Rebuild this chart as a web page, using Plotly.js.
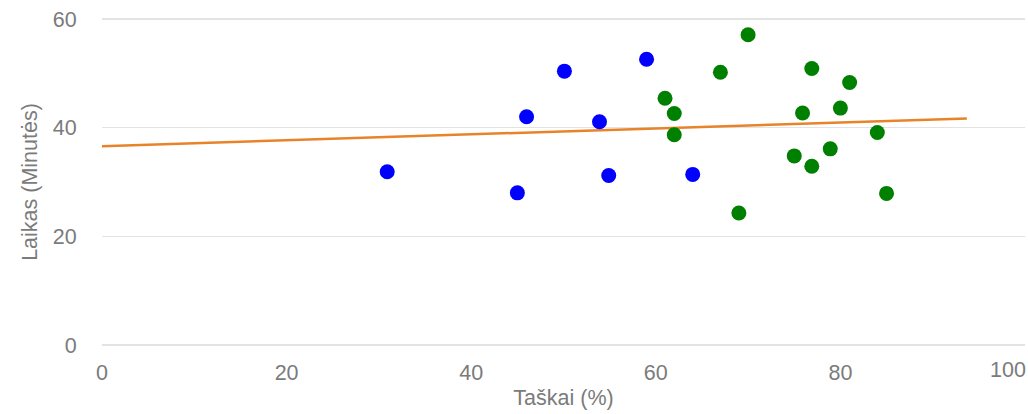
<!DOCTYPE html>
<html>
<head>
<meta charset="utf-8">
<script src="https://cdn.plot.ly/plotly-3.0.1.min.js"></script>
<style>html,body{margin:0;padding:0;background:#fff;}#chart{width:1028px;height:414px;}</style>
</head>
<body>
<div id="chart"></div>
<script>
const blueX = [30.9, 45.0, 46.0, 50.1, 53.9, 54.9, 59.0, 64.0];
const blueY = [31.9, 28.0, 42.0, 50.4, 41.1, 31.2, 52.6, 31.4];
const greenX = [61.0, 62.0, 62.0, 67.0, 69.0, 70.0, 75.0, 75.9, 76.9, 76.9, 78.9, 80.0, 81.0, 84.0, 85.0];
const greenY = [45.4, 42.6, 38.7, 50.2, 24.3, 57.1, 34.8, 42.7, 50.9, 32.9, 36.1, 43.6, 48.3, 39.1, 27.9];
const trendX = [0, 93.7];
const trendY = [36.6, 41.7];
const xTickVals = [0, 20, 40, 60, 80];
const xTickLabels = ['0', '20', '40', '60', '80'];
const lastXTick = 100;
const lastXTickLabel = '100';
const yTickVals = [0, 20, 40, 60];
const xTitle = 'Taškai (%)';
const yTitle = 'Laikas (Minutės)';

const font = 'Arial, "Liberation Sans", sans-serif';
const gray = '#7b7b7b';
const fs = 21.5;

const traces = [
  {x: trendX, y: trendY, mode: 'lines', line: {color: '#e8832a', width: 2.5}, hoverinfo: 'skip'},
  {x: blueX, y: blueY, mode: 'markers', marker: {color: '#0000ff', size: 15}},
  {x: greenX, y: greenY, mode: 'markers', marker: {color: '#008000', size: 15}}
];

const layout = {
  width: 1028, height: 414,
  margin: {l: 102, r: 3, t: 16, b: 66, pad: 0},
  paper_bgcolor: '#fff', plot_bgcolor: '#fff',
  showlegend: false,
  font: {family: font, color: gray, size: fs},
  xaxis: {
    range: [0, 100], showgrid: false, zeroline: false, showline: false,
    tickmode: 'array', tickvals: xTickVals, ticktext: xTickLabels,
    ticks: 'outside', ticklen: 5, tickcolor: 'rgba(0,0,0,0)',
    tickfont: {family: font, size: fs, color: gray},
    title: {text: xTitle, font: {family: font, size: fs, color: gray}, standoff: 6}
  },
  yaxis: {
    range: [-0.55, 60.55], showgrid: true, gridcolor: '#e3e3e3', gridwidth: 1.6,
    zeroline: false, showline: false,
    tickmode: 'array', tickvals: yTickVals,
    ticks: 'outside', ticklen: 20, tickcolor: 'rgba(0,0,0,0)',
    tickfont: {family: font, size: fs, color: gray},
    title: {text: yTitle, font: {family: font, size: fs, color: gray}, standoff: 9}
  },
  annotations: [{
    x: lastXTick, y: 0, xref: 'x', yref: 'paper', text: lastXTickLabel,
    showarrow: false, xanchor: 'right', yanchor: 'top', xshift: 3, yshift: -8,
    font: {family: font, size: fs, color: gray}
  }]
};

Plotly.newPlot('chart', traces, layout, {staticPlot: true, displayModeBar: false});
</script>
</body>
</html>
